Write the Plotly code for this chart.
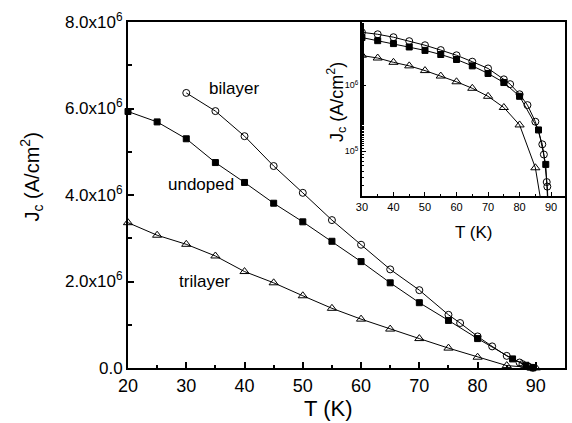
import plotly.graph_objects as go

# ---- data (T in K, Jc in A/cm^2) ----
T_undoped = [20, 25, 30, 35, 40, 45, 50, 55, 60, 65, 70, 75, 80, 86, 88.3, 89.5]
J_undoped = [5.93e6, 5.69e6, 5.30e6, 4.75e6, 4.29e6, 3.81e6, 3.38e6, 2.93e6, 2.46e6,
             1.97e6, 1.51e6, 1.10e6, 0.68e6, 0.21e6, 0.063e6, 0.005e6]

T_bilayer = [30, 35, 40, 45, 50, 55, 60, 65, 70, 75, 77, 80, 82.5, 85, 87.2, 87.7, 88.6, 88.8, 89.5]
J_bilayer = [6.36e6, 5.94e6, 5.36e6, 4.67e6, 4.05e6, 3.42e6, 2.85e6, 2.28e6, 1.80e6,
             1.23e6, 1.04e6, 0.73e6, 0.50e6, 0.28e6, 0.127e6, 0.089e6, 0.034e6, 0.029e6, 0.005e6]

T_trilayer = [20, 25, 30, 35, 40, 45, 50, 55, 60, 65, 70, 75, 80, 85, 90]
J_trilayer = [3.36e6, 3.07e6, 2.86e6, 2.59e6, 2.23e6, 1.97e6, 1.67e6, 1.38e6, 1.13e6,
              0.90e6, 0.68e6, 0.46e6, 0.25e6, 0.056e6, 0.002e6]

y_tickvals = [0, 2e6, 4e6, 6e6, 8e6]
y_ticktext = ["0.0", "2.0x10<sup>6</sup>", "4.0x10<sup>6</sup>", "6.0x10<sup>6</sup>", "8.0x10<sup>6</sup>"]
x_tickvals = [20, 30, 40, 50, 60, 70, 80, 90]
inset_x_tickvals = [30, 40, 50, 60, 70, 80, 90]
inset_y_tickvals = [1e5, 1e6]
inset_y_ticktext = ["10<sup>5</sup>", "10<sup>6</sup>"]

FONT = "Liberation Sans, Arial, sans-serif"
W, H = 572, 423
L, R, T, B = 128, 5, 22, 55

series = [
    ("undoped", T_undoped, J_undoped, "square", 6, 6),
    ("bilayer", T_bilayer, J_bilayer, "circle-open", 7, 7),
    ("trilayer", T_trilayer, J_trilayer, "triangle-up-open", 8, 8),
]

fig = go.Figure()
for name, xs, ys, sym, ms, ms2 in series:
    fig.add_trace(go.Scatter(x=xs, y=ys, mode="lines+markers", name=name,
                             line=dict(color="black", width=1),
                             marker=dict(symbol=sym, size=ms, color="black",
                                         line=dict(color="black", width=1)),
                             cliponaxis=False, xaxis="x", yaxis="y", showlegend=False))
for name, xs, ys, sym, ms, ms2 in series:
    fig.add_trace(go.Scatter(x=xs, y=ys, mode="lines+markers", name=name,
                             line=dict(color="black", width=1),
                             marker=dict(symbol=sym, size=ms2, color="black",
                                         line=dict(color="black", width=1)),
                             xaxis="x2", yaxis="y2", showlegend=False))

axis_common = dict(showline=True, linecolor="black", mirror=True, showgrid=False,
                   zeroline=False, ticks="inside", tickcolor="black")

fig.update_layout(
    width=W, height=H,
    margin=dict(l=L, r=R, t=T, b=B),
    paper_bgcolor="white", plot_bgcolor="white",
    font=dict(family=FONT, color="black"),
    xaxis=dict(domain=[0, 1], range=[20, 95], tickvals=x_tickvals, linewidth=2,
               ticklen=6, tickwidth=1.5, tickfont=dict(size=18),
               minor=dict(ticks="inside", ticklen=3, dtick=5, tick0=0, tickcolor="black"),
               **axis_common),
    yaxis=dict(domain=[0, 1], range=[0, 8e6], tickvals=y_tickvals, ticktext=y_ticktext,
               linewidth=2, ticklen=6, tickwidth=1.5, tickfont=dict(size=17),
               minor=dict(ticks="inside", ticklen=4, tickvals=[1e6, 3e6, 5e6, 7e6], tickcolor="black"),
               **axis_common),
    xaxis2=dict(domain=[(363 - L) / (W - L - R), 1], anchor="y2", range=[30, 94.4],
                tickvals=inset_x_tickvals, linewidth=1.5, ticklen=4, tickwidth=1,
                tickfont=dict(size=11),
                minor=dict(ticks="inside", ticklen=2, dtick=5, tick0=0, tickcolor="black"),
                **axis_common),
    yaxis2=dict(domain=[(H - B - 196) / (H - T - B), 1], anchor="x2", type="log",
                range=[4.32, 6.96], tickvals=inset_y_tickvals, ticktext=inset_y_ticktext,
                linewidth=1.5, ticklen=4, tickwidth=1, tickfont=dict(size=9),
                minor=dict(ticks="inside", ticklen=2, tickcolor="black"),
                **axis_common),
)

def px(xp, yp):
    return (xp - L) / (W - L - R), (H - B - yp) / (H - T - B)

C = dict(xanchor="center", yanchor="middle", showarrow=False)
ann = []
# curve labels (data coords)
ann.append(dict(x=38.2, y=6.47e6, xref="x", yref="y", text="bilayer", font=dict(size=17), **C))
ann.append(dict(x=32.5, y=4.25e6, xref="x", yref="y", text="undoped", font=dict(size=17), **C))
ann.append(dict(x=33.2, y=2.01e6, xref="x", yref="y", text="trilayer", font=dict(size=17), **C))
# axis titles
x0, y0 = px(31, 177)
ann.append(dict(x=x0, y=y0, xref="paper", yref="paper", text="J<sub>c</sub> (A/cm<sup>2</sup>)",
                textangle=-90, font=dict(size=20), **C))
x0, y0 = px(329, 408)
ann.append(dict(x=x0, y=y0, xref="paper", yref="paper", text="T (K)", font=dict(size=22), **C))
x0, y0 = px(337, 102)
ann.append(dict(x=x0, y=y0, xref="paper", yref="paper", text="J<sub>c</sub> (A/cm<sup>2</sup>)",
                textangle=-90, font=dict(size=18), **C))
x0, y0 = px(475, 232)
ann.append(dict(x=x0, y=y0, xref="paper", yref="paper", text="T (K)", font=dict(size=17), **C))
fig.update_layout(annotations=ann)

fig.write_html("out.html", config={"displayModeBar": False},
               post_script="document.body.style.margin='0';document.body.style.overflow='hidden';")
